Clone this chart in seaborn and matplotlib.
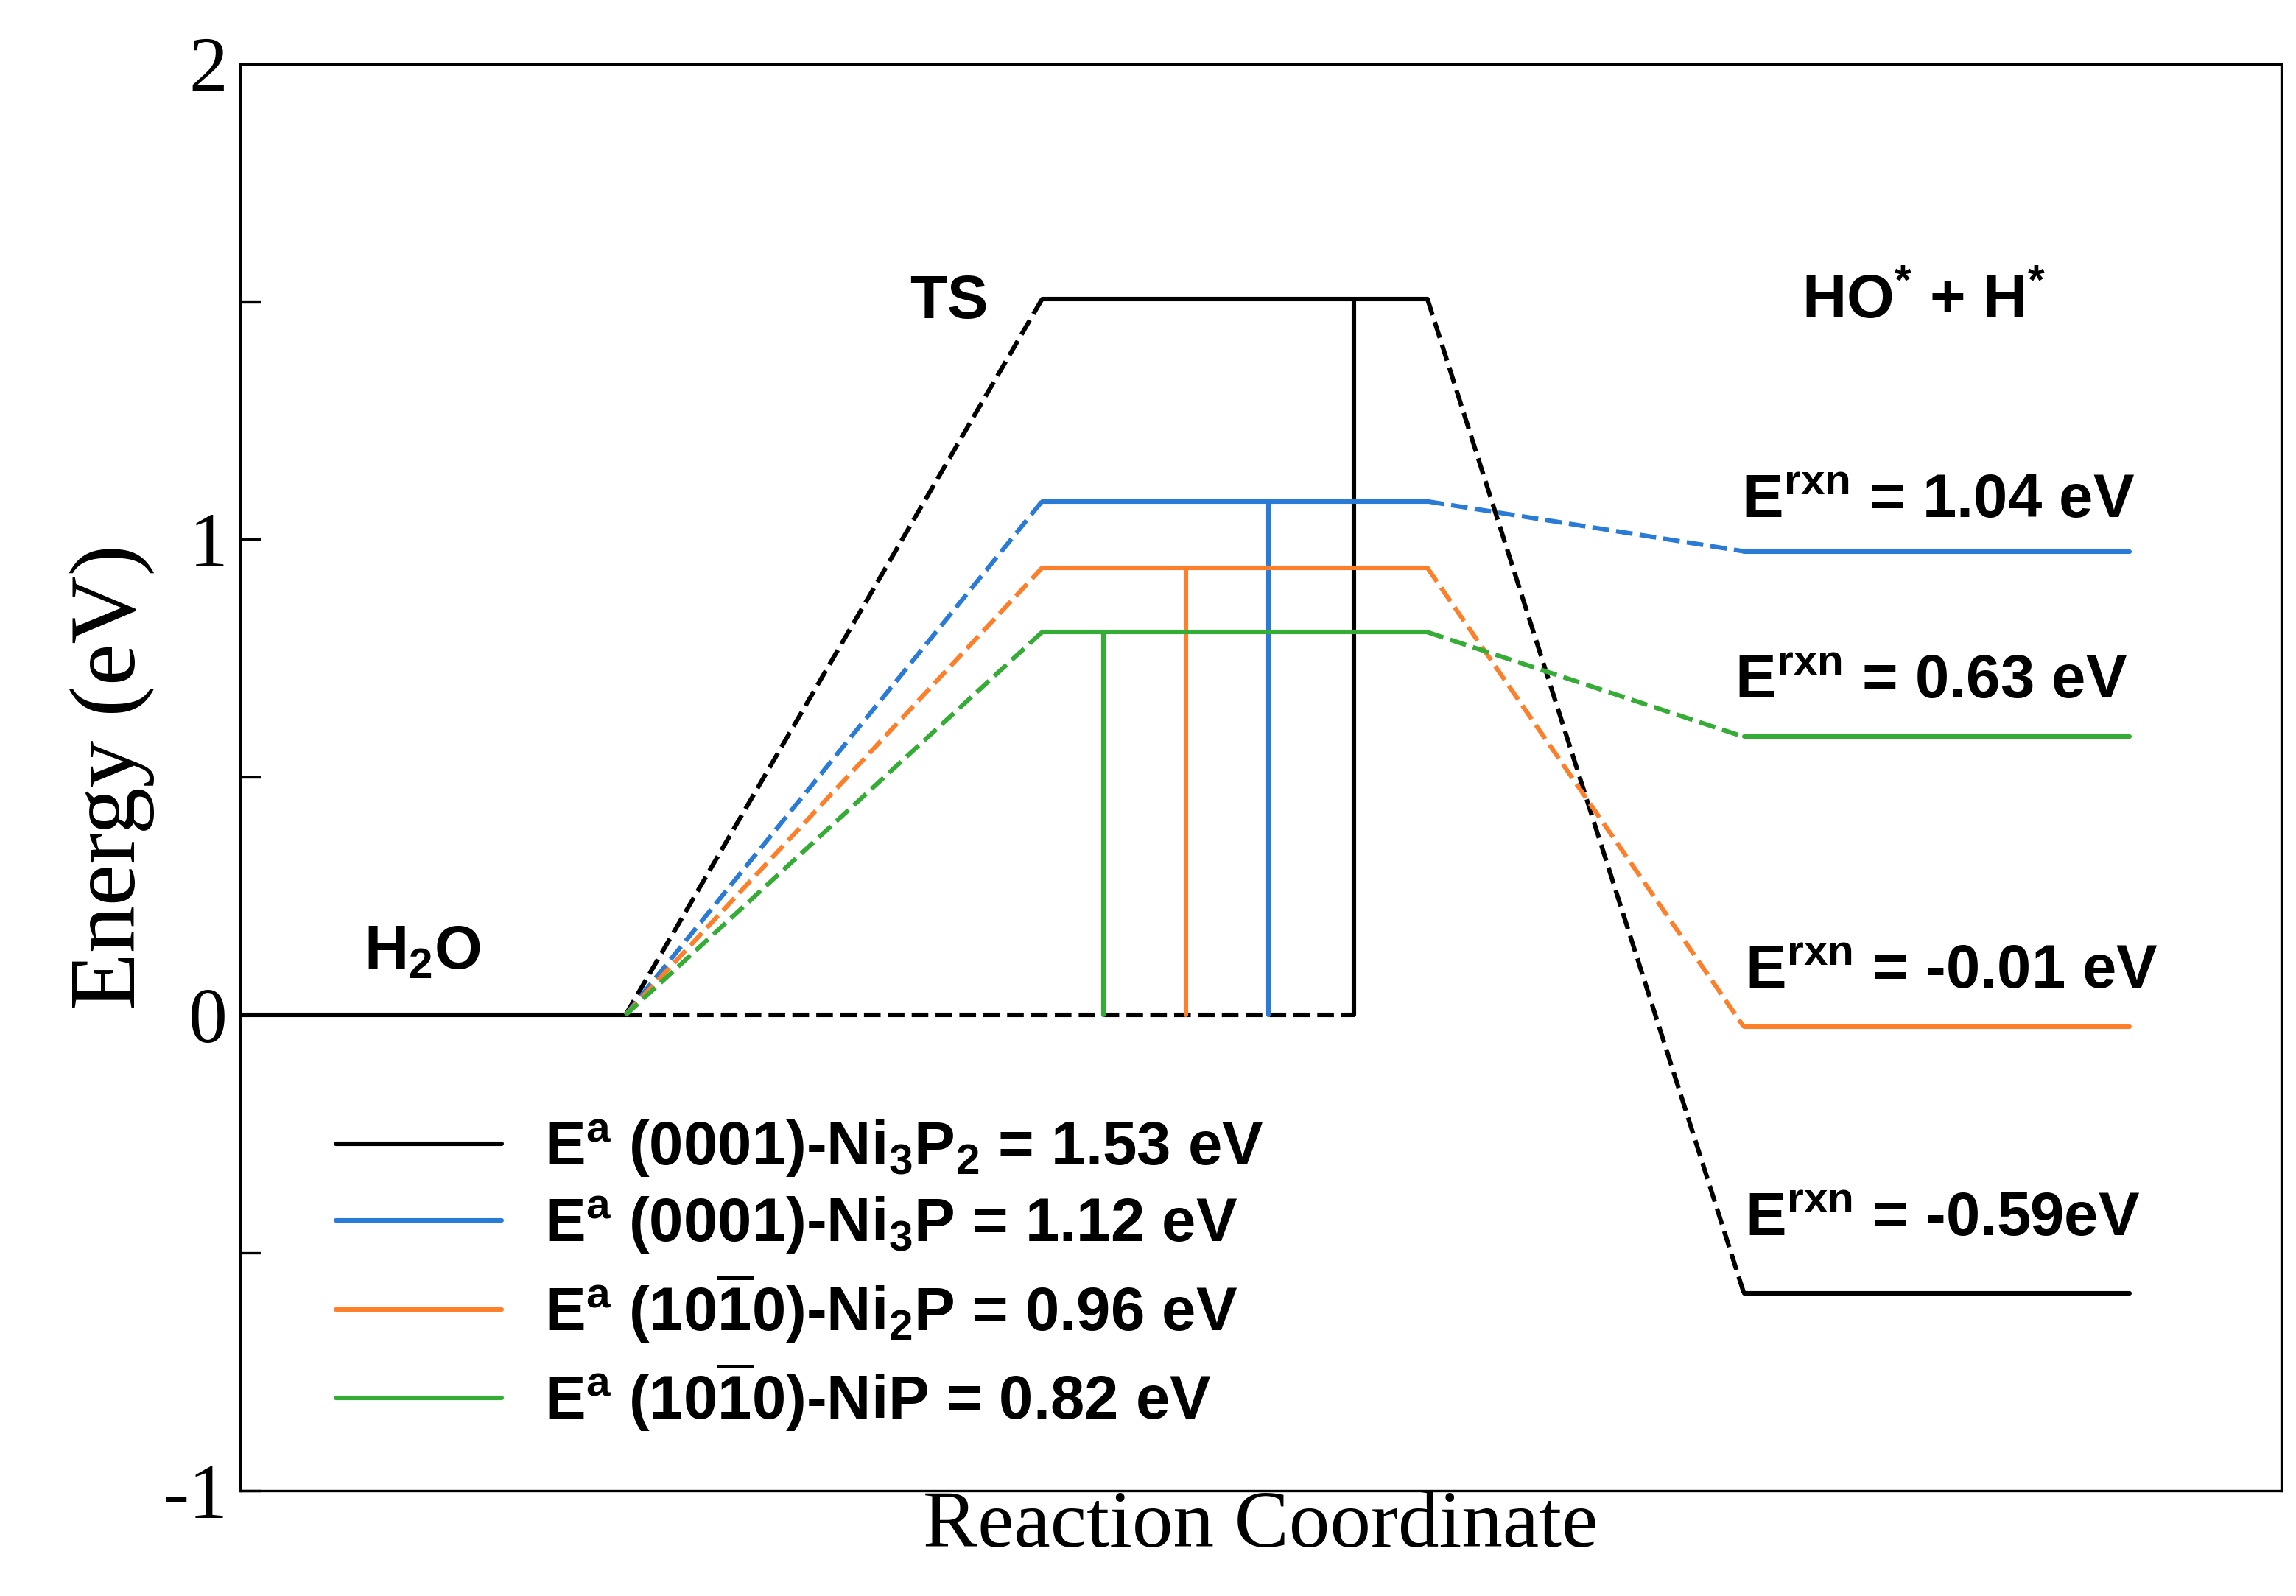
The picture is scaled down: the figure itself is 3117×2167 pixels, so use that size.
import pandas as pd
import seaborn as sns
from matplotlib import pyplot as plt
from matplotlib.lines import Line2D

sns.set_style("ticks")
plt.rcParams['font.family'] = ['Liberation Serif', 'DejaVu Serif']
plt.rcParams['text.color'] = 'black'
plt.rcParams['axes.labelcolor'] = 'black'
plt.rcParams['ytick.color'] = 'black'
plt.rcParams['axes.edgecolor'] = 'black'
plt.rcParams['mathtext.fontset'] = 'custom'
plt.rcParams['mathtext.rm'] = 'Liberation Sans:bold'
plt.rcParams['mathtext.it'] = 'Liberation Sans:bold'
plt.rcParams['mathtext.bf'] = 'Liberation Sans:bold'
plt.rcParams['mathtext.default'] = 'rm'

SANS = ['Liberation Sans', 'DejaVu Sans']

# data
surfaces = ['(0001)-Ni3P2', '(0001)-Ni3P', '(10-10)-Ni2P', '(10-10)-NiP']
colors = ['black', '#2a7bd5', '#fd7f2a', '#35ac35']
e_act = [1.53, 1.12, 0.96, 0.82]
ts_level = [1.505, 1.08, 0.94, 0.805]
prod_level = [-0.585, 0.975, -0.025, 0.585]
e_rxn_text = ['-0.59eV', '1.04 eV', '-0.01 eV', '0.63 eV']
e_rxn_y = [-0.43, 1.08, 0.09, 0.70]
e_rxn_x = [1157, 1154, 1163, 1149]
legend_labels = [r'E$^{a}$ (0001)-Ni$_3$P$_2$ = 1.53 eV',
                 r'E$^{a}$ (0001)-Ni$_3$P = 1.12 eV',
                 r'E$^{a}$ (10$\overline{1}$0)-Ni$_2$P = 0.96 eV',
                 r'E$^{a}$ (10$\overline{1}$0)-NiP = 0.82 eV']
bar_x = [757, 699, 643, 587]

# reaction coordinate positions
r_start, r_end = 0, 262
ts_start, ts_end = 545, 807
p_start, p_end = 1022, 1284


def seg(ax, xs, ys, color, ls='-', lw=2.2):
    sns.lineplot(x=xs, y=ys, ax=ax, color=color, linestyle=ls, linewidth=lw,
                 sort=False, estimator=None)


fig = plt.figure(figsize=(15.585, 10.835), dpi=200)
ax = fig.add_axes([0.1045, 0.066, 0.889, 0.894])

seg(ax, [r_start, r_end], [0, 0], 'black')
seg(ax, [r_end, bar_x[0]], [0, 0], 'black', '--')
for i in range(4):
    c = colors[i]
    seg(ax, [r_end, ts_start], [0, ts_level[i]], c, '--')
    seg(ax, [ts_start, ts_end], [ts_level[i], ts_level[i]], c)
    seg(ax, [bar_x[i], bar_x[i]], [0, ts_level[i]], c)
    seg(ax, [ts_end, p_start], [ts_level[i], prod_level[i]], c, '--')
    seg(ax, [p_start, p_end], [prod_level[i], prod_level[i]], c)
    ax.text(e_rxn_x[i], e_rxn_y[i], r'E$^{rxn}$ = ' + e_rxn_text[i],
            ha='center', va='center', fontsize=30, family=SANS, weight='bold')

ax.text(124, 0.13, r'H$_2$O', ha='center', va='center', fontsize=30,
        family=SANS, weight='bold')
ax.text(482, 1.5, 'TS', ha='center', va='center', fontsize=30,
        family=SANS, weight='bold')
ax.text(1144, 1.5, r'HO$^{*}$ + H$^{*}$', ha='center', va='center', fontsize=30,
        family=SANS, weight='bold')

ax.set_xlim(0, 1387)
ax.set_ylim(-1, 2)
ax.set_xticks([])
ax.set_yticks([-1, 0, 1, 2])
ax.set_yticks([-0.5, 0.5, 1.5], minor=True)
ax.set_yticklabels(['-1', '0', '1', '2'])
ax.tick_params(axis='y', which='both', direction='in', length=10, width=1.2,
               labelsize=38, pad=6)
for s in ax.spines.values():
    s.set_linewidth(1.2)
ax.set_ylabel('Energy (eV)', fontsize=46, labelpad=4)
ax.set_xlabel('Reaction Coordinate', fontsize=40, labelpad=0)

handles = [Line2D([0], [0], color=c, lw=2.2) for c in colors]
ax.legend(handles, legend_labels, loc='upper left', bbox_to_anchor=(0.02, 0.30),
          frameon=False, handlelength=2.7, labelspacing=0.25,
          handletextpad=0.7, prop={'family': SANS, 'weight': 'bold', 'size': 30})

fig.savefig('out.png', dpi=200)
